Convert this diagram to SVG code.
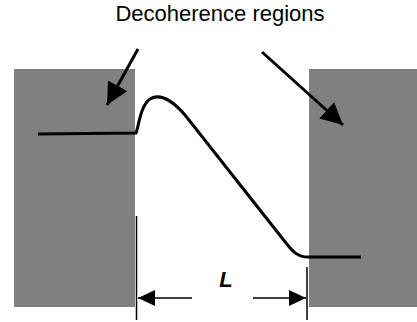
<svg xmlns="http://www.w3.org/2000/svg" width="417" height="322" viewBox="0 0 417 322">
<style>
.region{fill:#808080}
.lbl{font-family:"Liberation Sans",Arial,sans-serif;fill:#000}
.big{stroke:#000;stroke-width:3;fill:none}
.thin{stroke:#000;stroke-width:1.5;fill:none}
</style>
<defs>
<marker id="bigHead" markerUnits="userSpaceOnUse" markerWidth="24" markerHeight="24" viewBox="0 0 24 24" refX="22" refY="12" orient="auto">
<path d="M0,1 L22,12 L0,23 Z" fill="#000"/>
</marker>
<marker id="dimHead" markerUnits="userSpaceOnUse" markerWidth="18" markerHeight="18" viewBox="0 0 18 18" refX="17" refY="9" orient="auto">
<path d="M0,1 L17,9 L0,17 Z" fill="#000"/>
</marker>
</defs>
<g id="left-region"><rect class="region" x="14" y="69" width="121" height="238"/></g>
<g id="right-region"><rect class="region" x="309" y="69" width="108" height="238"/></g>
<g id="title"><text class="lbl" x="220" y="20.5" font-size="22" text-anchor="middle">Decoherence regions</text></g>
<g id="wave"><path class="big" d="M38,134 L136,133 C139,126 140,106 150,99 C160,93 172,100 185,115 L286,243 C293,252 298,257 308,257 L361,257"/></g>
<g id="L-label"><text class="lbl" x="226" y="287" font-size="22" font-weight="bold" font-style="italic" text-anchor="middle">L</text></g>
<g id="connectors">
<line class="big" x1="138" y1="49" x2="107" y2="105" marker-end="url(#bigHead)"/>
<line class="big" x1="262" y1="52" x2="343" y2="125" marker-end="url(#bigHead)"/>
<line class="thin" x1="136.5" y1="216" x2="136.5" y2="320"/>
<line class="thin" x1="307" y1="267" x2="307" y2="320"/>
<line class="thin" x1="192" y1="298" x2="138" y2="298" marker-end="url(#dimHead)"/>
<line class="thin" x1="253" y1="298" x2="306" y2="298" marker-end="url(#dimHead)"/>
</g>
</svg>
